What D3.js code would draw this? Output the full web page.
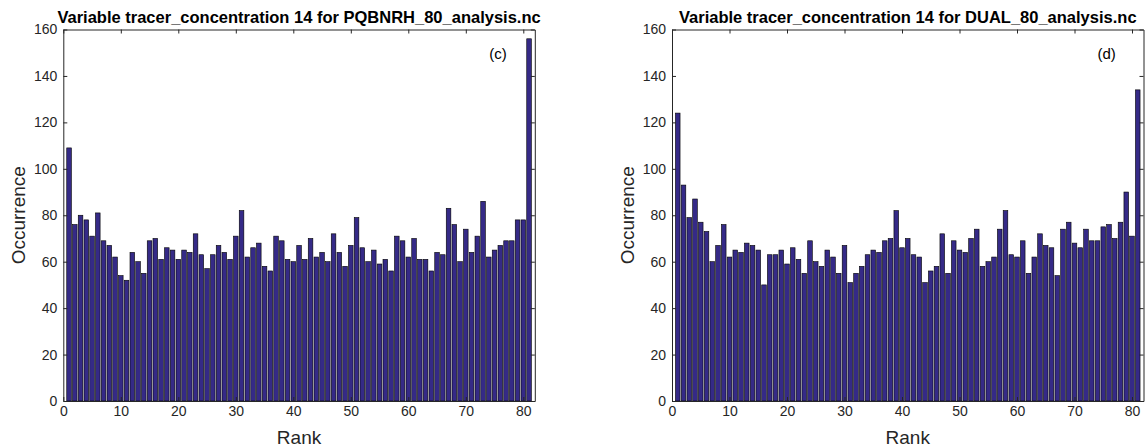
<!DOCTYPE html>
<html>
<head>
<meta charset="utf-8">
<script src="https://cdn.jsdelivr.net/npm/d3@7"></script>
<style>
  body { margin: 0; background: #fff; }
  svg { display: block; }
  text { font-family: "Liberation Sans", Arial, Helvetica, sans-serif; }
</style>
</head>
<body>
<svg id="fig" width="1145" height="447"></svg>
<script>
// Rank histogram counts for tracer_concentration 14 (ranks 1..81)
const ranks = d3.range(1, 82);

const pqbnrhCounts = [
  109, 76, 80, 78, 71, 81, 69, 67, 62, 54,
   52, 64, 60, 55, 69, 70, 61, 66, 65, 61,
   65, 64, 72, 63, 57, 63, 67, 64, 61, 71,
   82, 62, 66, 68, 58, 56, 71, 69, 61, 60,
   67, 61, 70, 62, 64, 60, 72, 64, 58, 67,
   79, 66, 60, 65, 59, 61, 56, 71, 69, 62,
   70, 61, 61, 56, 64, 63, 83, 76, 60, 74,
   64, 71, 86, 62, 65, 67, 69, 69, 78, 78,
  156
];

const dualCounts = [
  124, 93, 79, 87, 77, 73, 60, 67, 76, 62,
   65, 64, 68, 67, 65, 50, 63, 63, 65, 59,
   66, 61, 55, 69, 60, 58, 65, 62, 55, 67,
   51, 55, 58, 63, 65, 64, 69, 70, 82, 66,
   70, 63, 62, 51, 56, 58, 72, 55, 69, 65,
   64, 70, 74, 58, 60, 62, 74, 82, 63, 62,
   69, 55, 62, 72, 67, 66, 54, 74, 77, 68,
   66, 74, 69, 69, 75, 76, 70, 77, 90, 71,
  134
];

const xTicks = [0, 10, 20, 30, 40, 50, 60, 70, 80];
const yTicks = [0, 20, 40, 60, 80, 100, 120, 140, 160];

const panels = [
  { title: "Variable tracer_concentration 14 for PQBNRH_80_analysis.nc",
    tag: "(c)", counts: pqbnrhCounts, left: 63.3, right: 534.8, ylabelX: 25 },
  { title: "Variable tracer_concentration 14 for DUAL_80_analysis.nc",
    tag: "(d)", counts: dualCounts, left: 672, right: 1143.5, ylabelX: 634 }
];

const plotTop = 29.5, plotBottom = 401;
const axisColor = "#262626";
const barFill = "#352a87";
const barWidth = 0.8;

const svg = d3.select("#fig");

panels.forEach(p => {
  const x = d3.scaleLinear().domain([0, 82]).range([p.left, p.right]);
  const y = d3.scaleLinear().domain([0, 160]).range([plotBottom, plotTop]);
  const g = svg.append("g");

  // bars
  g.append("g").selectAll("rect")
    .data(ranks.map((r, i) => ({ rank: r, count: p.counts[i] })))
    .join("rect")
      .attr("x", d => x(d.rank - barWidth / 2))
      .attr("width", d => x(d.rank + barWidth / 2) - x(d.rank - barWidth / 2))
      .attr("y", d => y(d.count))
      .attr("height", d => y(0) - y(d.count))
      .attr("fill", barFill)
      .attr("stroke", "#000")
      .attr("stroke-width", 0.6);

  const styleAxis = sel => {
    sel.selectAll("path.domain").attr("stroke", axisColor).attr("stroke-width", 1);
    sel.selectAll(".tick line").attr("stroke", axisColor).attr("stroke-width", 1);
    sel.selectAll(".tick text").attr("fill", axisColor).style("font-size", "14px");
  };

  g.append("g").attr("transform", `translate(0,${plotBottom})`)
    .call(d3.axisBottom(x).tickValues(xTicks).tickSizeInner(-4).tickSizeOuter(0).tickPadding(5))
    .call(styleAxis);
  g.append("g").attr("transform", `translate(0,${plotTop})`)
    .call(d3.axisTop(x).tickValues(xTicks).tickSizeInner(-4).tickSizeOuter(0).tickFormat(""))
    .call(styleAxis);
  g.append("g").attr("transform", `translate(${p.left},0)`)
    .call(d3.axisLeft(y).tickValues(yTicks).tickSizeInner(-4).tickSizeOuter(0).tickPadding(6))
    .call(styleAxis);
  g.append("g").attr("transform", `translate(${p.right},0)`)
    .call(d3.axisRight(y).tickValues(yTicks).tickSizeInner(-4).tickSizeOuter(0).tickFormat(""))
    .call(styleAxis);

  // title
  g.append("text")
    .attr("x", (p.left + p.right) / 2)
    .attr("y", 23)
    .attr("text-anchor", "middle")
    .style("font-size", "16.5px")
    .style("font-weight", "bold")
    .attr("fill", "#000")
    .text(p.title);

  // panel tag
  g.append("text")
    .attr("x", x(75.6))
    .attr("y", y(147.5))
    .attr("text-anchor", "middle")
    .style("font-size", "15px")
    .attr("fill", "#000")
    .text(p.tag);

  // axis labels
  g.append("text")
    .attr("x", (p.left + p.right) / 2)
    .attr("y", 444)
    .attr("text-anchor", "middle")
    .style("font-size", "19px")
    .attr("fill", axisColor)
    .text("Rank");

  g.append("text")
    .attr("transform", `translate(${p.ylabelX},${(plotTop + plotBottom) / 2}) rotate(-90)`)
    .attr("text-anchor", "middle")
    .style("font-size", "19px")
    .attr("fill", axisColor)
    .text("Occurrence");
});
</script>
</body>
</html>
